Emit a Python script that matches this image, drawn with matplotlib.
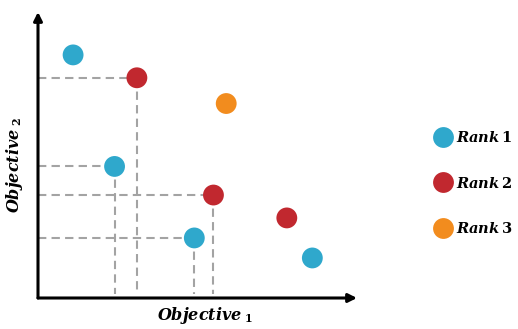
import matplotlib.pyplot as plt
from matplotlib.lines import Line2D

plt.rcParams["mathtext.fontset"] = "dejavuserif"

# objective values (arbitrary 0-10 units)
rank1_x = [1.1, 2.4, 4.9, 8.6]
rank1_y = [8.5, 4.6, 2.1, 1.4]
rank2_x = [3.1, 5.5, 7.8]
rank2_y = [7.7, 3.6, 2.8]
rank3_x = [5.9]
rank3_y = [6.8]

# points that get dashed projection lines onto both axes
guide_x = [rank2_x[0], rank1_x[1], rank2_x[1], rank1_x[2]]
guide_y = [rank2_y[0], rank1_y[1], rank2_y[1], rank1_y[2]]

labels = [r"$\mathbfit{Rank}\,\mathbf{1}$", r"$\mathbfit{Rank}\,\mathbf{2}$",
          r"$\mathbfit{Rank}\,\mathbf{3}$"]
colors = ["#2fa8cc", "#c1282f", "#f28c1e"]

fig = plt.figure(figsize=(5.18, 3.29), dpi=100)
ax = fig.add_axes([38 / 518, 31 / 329, 319 / 518, 286 / 329])
ax.set_xlim(0, 10)
ax.set_ylim(0, 10)
ax.axis("off")

# dashed guides
for gx, gy in zip(guide_x, guide_y):
    ax.plot([0, gx], [gy, gy], ls=(0, (4, 2.5)), color="#a3a3a3", lw=1.5, zorder=1)
    ax.plot([gx, gx], [gy, 0.15], ls=(0, (4, 2.5)), color="#a3a3a3", lw=1.5, zorder=1)

ms = 225
for xs, ys, c in zip([rank1_x, rank2_x, rank3_x], [rank1_y, rank2_y, rank3_y], colors):
    ax.scatter(xs, ys, s=ms, color=c, edgecolor="none", zorder=3)

# axes with arrow heads
arrow = dict(arrowstyle="-|>,head_length=0.5,head_width=0.25", color="black", lw=2.2,
             shrinkA=0, shrinkB=0)
ax.annotate("", xy=(1.0, 0), xytext=(0, 0), xycoords="axes fraction",
            arrowprops=arrow, annotation_clip=False)
ax.annotate("", xy=(0, 1.0), xytext=(0, 0), xycoords="axes fraction",
            arrowprops=arrow, annotation_clip=False)

fig.text(205 / 518, 1 - 316 / 329, r"$\mathbfit{Objective}_{\ \mathbf{1}}$",
         ha="center", va="center", fontsize=11.5)
fig.text(15 / 518, 1 - 165 / 329, r"$\mathbfit{Objective}_{\ \mathbf{2}}$",
         ha="center", va="center", fontsize=11.5, rotation=90)

handles = [Line2D([], [], ls="none", marker="o", markersize=15, color=c, markeredgewidth=0)
           for c in colors]
fig.legend(handles, labels, loc="center left", bbox_to_anchor=(434 / 518, 1 - 183 / 329),
           frameon=False, fontsize=10.5, labelspacing=2.1, handletextpad=0.3,
           handlelength=1.2, borderaxespad=0, borderpad=0)

fig.savefig("out.png", dpi=100)
